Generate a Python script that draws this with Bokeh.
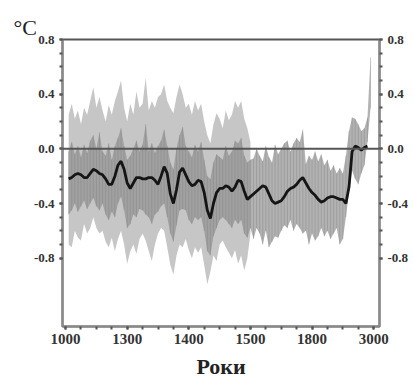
from bokeh.plotting import figure
from bokeh.models import Range1d, FixedTicker, LinearAxis, Span
from bokeh.embed import file_html
from bokeh.resources import INLINE

# ---------------- data ----------------
YEARS = list(range(1010, 2000, 10))          # 1010 ... 1990
UNC_YEARS = YEARS[:60]                        # 1010 ... 1600

unc_hi = [0.25, 0.33, 0.22, 0.28, 0.18, 0.30, 0.25, 0.35, 0.45, 0.30,
          0.38, 0.28, 0.20, 0.32, 0.25, 0.35, 0.42, 0.50, 0.30, 0.20,
          0.33, 0.25, 0.42, 0.30, 0.33, 0.52, 0.28, 0.35, 0.30, 0.38,
          0.40, 0.47, 0.35, 0.30, 0.26, 0.38, 0.47, 0.40, 0.30, 0.33,
          0.25, 0.35, 0.28, 0.33, 0.20, 0.10, 0.04, 0.18, 0.26, 0.22,
          0.15, 0.28, 0.21, 0.25, 0.35, 0.30, 0.35, 0.22, 0.15, 0.05]
unc_lo = [-0.70, -0.72, -0.60, -0.65, -0.67, -0.55, -0.62, -0.58, -0.50, -0.58,
          -0.62, -0.60, -0.68, -0.72, -0.65, -0.75, -0.66, -0.60, -0.70, -0.84,
          -0.75, -0.70, -0.77, -0.66, -0.62, -0.67, -0.75, -0.82, -0.70, -0.62,
          -0.58, -0.60, -0.72, -0.85, -0.92, -0.78, -0.70, -0.72, -0.66, -0.74,
          -0.80, -0.72, -0.76, -0.72, -0.85, -0.99, -0.90, -0.78, -0.82, -0.70,
          -0.67, -0.72, -0.76, -0.80, -0.74, -0.84, -0.78, -0.89, -0.80, -0.62]

rec_hi = [-0.02, 0.05, -0.04, 0.02, -0.06, 0.03, -0.03, 0.06, 0.10, 0.00,
          0.12, -0.02, -0.05, 0.04, -0.08, 0.02, 0.08, 0.15, 0.02, -0.08,
          -0.05, 0.00, 0.06, -0.02, 0.03, 0.18, -0.02, 0.04, -0.03, 0.02,
          0.06, 0.14, 0.02, -0.10, -0.15, 0.00, 0.10, 0.16, 0.02, -0.02,
          -0.06, 0.03, -0.02, 0.05, -0.08, -0.20, -0.22, -0.10, -0.04, -0.06,
          -0.08, 0.02, -0.05, -0.02, 0.06, 0.04, 0.08, -0.05, -0.10, -0.08,
          -0.07, 0.00, -0.05, -0.09, 0.02, -0.06, -0.10, 0.03, -0.04, 0.00,
          0.04, 0.06, -0.02, 0.04, 0.08, 0.05, 0.14, -0.11, -0.05, -0.08,
          -0.02, -0.09, -0.04, -0.12, -0.08, -0.16, -0.12, -0.18, -0.14, -0.18,
          -0.05, 0.13, 0.23, 0.22, 0.18, 0.13, 0.15, 0.23, 0.67]
rec_lo = [-0.48, -0.45, -0.40, -0.46, -0.42, -0.38, -0.44, -0.40, -0.36, -0.42,
          -0.45, -0.40, -0.48, -0.52, -0.46, -0.50, -0.40, -0.35, -0.45, -0.58,
          -0.55, -0.48, -0.50, -0.44, -0.45, -0.48, -0.50, -0.55, -0.48, -0.46,
          -0.42, -0.40, -0.50, -0.62, -0.68, -0.56, -0.45, -0.44, -0.45, -0.52,
          -0.55, -0.50, -0.52, -0.50, -0.60, -0.75, -0.78, -0.64, -0.58, -0.52,
          -0.50, -0.52, -0.55, -0.58, -0.52, -0.55, -0.52, -0.62, -0.65, -0.58,
          -0.66, -0.58, -0.62, -0.70, -0.60, -0.72, -0.68, -0.64, -0.65, -0.60,
          -0.56, -0.58, -0.52, -0.60, -0.55, -0.58, -0.62, -0.60, -0.70, -0.62,
          -0.67, -0.64, -0.58, -0.64, -0.60, -0.66, -0.62, -0.58, -0.70, -0.66,
          -0.50, -0.31, -0.16, -0.22, -0.26, -0.18, -0.12, 0.05, 0.30]

smooth = [-0.22, -0.21, -0.19, -0.18, -0.19, -0.21, -0.21, -0.18, -0.15, -0.16,
          -0.18, -0.19, -0.22, -0.26, -0.26, -0.20, -0.12, -0.09, -0.15, -0.25,
          -0.29, -0.25, -0.21, -0.21, -0.22, -0.22, -0.21, -0.21, -0.23, -0.26,
          -0.20, -0.13, -0.18, -0.33, -0.40, -0.30, -0.17, -0.14, -0.19, -0.24,
          -0.27, -0.26, -0.23, -0.24, -0.32, -0.45, -0.51, -0.40, -0.32, -0.29,
          -0.29, -0.27, -0.28, -0.31, -0.28, -0.23, -0.24, -0.31, -0.37, -0.35,
          -0.33, -0.31, -0.29, -0.27, -0.28, -0.33, -0.38, -0.40, -0.39, -0.38,
          -0.35, -0.31, -0.29, -0.28, -0.26, -0.23, -0.21, -0.25, -0.29, -0.32,
          -0.34, -0.37, -0.39, -0.38, -0.36, -0.35, -0.35, -0.36, -0.37, -0.37,
          -0.40, -0.28, -0.02, 0.02, 0.01, -0.01, 0.01, 0.02]

X_TICKS = [1000, 1200, 1400, 1600, 1800, 2000]
X_LABELS = ["1000", "1300", "1400", "1500", "1800", "3000"]
X_MINOR = [1000 + 50 * i for i in range(21)]
Y_TICKS = [-0.8, -0.4, 0.0, 0.4, 0.8]
Y_LABELS = ["-0.8", "-0.4", "0.0", "0.4", "0.8"]
Y_MINOR = [round(-0.8 + 0.1 * i, 1) for i in range(17)]
UNIT = "°C"
X_TITLE = "Роки"

FONT = "Liberation Serif"

# ---------------- figure ----------------
p = figure(width=414, height=382, output_backend="svg", toolbar_location=None,
           x_range=Range1d(990, 2019), y_range=Range1d(-1.30, 0.80),
           min_border_left=62, min_border_right=35, min_border_top=39,
           min_border_bottom=56)
p.grid.visible = False
p.outline_line_color = "#555555"
p.outline_line_width = 2
p.background_fill_color = "white"
p.border_fill_color = "white"

# unit as a left-aligned title sitting left of the frame
p.title.text = UNIT
p.title.align = "left"
p.title.offset = -49
p.title.standoff = 0
p.title.text_font = FONT
p.title.text_font_style = "normal"
p.title.text_font_size = "22px"
p.title.text_color = "#222222"

# bands
p.varea(x=UNC_YEARS, y1=unc_lo, y2=unc_hi, fill_color="#c6c6c6", fill_alpha=1.0)
p.varea(x=YEARS, y1=rec_lo, y2=rec_hi, fill_color="#929292", fill_alpha=0.7)
p.segment(x0=YEARS, y0=rec_lo, x1=YEARS, y1=rec_hi, line_color="#7a7a7a",
          line_width=1, line_alpha=0.35)

# zero line
p.add_layout(Span(location=0, dimension="width", line_color="#555555", line_width=2))

# smoothed line
p.line(YEARS[:len(smooth)], smooth, line_color="#151515", line_width=2.8)

# axes
p.add_layout(LinearAxis(), "right")
x_over = {t: l for t, l in zip(X_TICKS, X_LABELS)}
y_over = {t: l for t, l in zip(Y_TICKS, Y_LABELS)}
for ax in p.xaxis:
    ax.ticker = FixedTicker(ticks=X_TICKS, minor_ticks=X_MINOR)
    ax.major_label_overrides = x_over
    ax.major_label_text_font_size = "15px"
    ax.major_label_standoff = 4
    ax.axis_label = X_TITLE
    ax.axis_label_text_font = FONT
    ax.axis_label_text_font_style = "bold"
    ax.axis_label_text_font_size = "22px"
    ax.axis_label_standoff = 7
    ax.axis_label_text_color = "#222222"
for ax in p.yaxis:
    ax.ticker = FixedTicker(ticks=Y_TICKS, minor_ticks=Y_MINOR)
    ax.major_label_overrides = y_over
    ax.major_label_text_font_size = "13px"
    ax.major_label_standoff = 5
for ax in list(p.xaxis) + list(p.yaxis):
    ax.major_label_text_font = FONT
    ax.major_label_text_font_style = "bold"
    ax.major_label_text_color = "#333333"
    ax.axis_line_color = "#8a8a8a"
    ax.axis_line_width = 2
    ax.major_tick_in = 0
    ax.major_tick_out = 3
    ax.minor_tick_in = 0
    ax.minor_tick_out = 3
    ax.major_tick_line_color = "#555555"
    ax.minor_tick_line_color = "#555555"
    ax.major_tick_line_width = 2
    ax.minor_tick_line_width = 2

open("out.html", "w").write(file_html(p, INLINE))
